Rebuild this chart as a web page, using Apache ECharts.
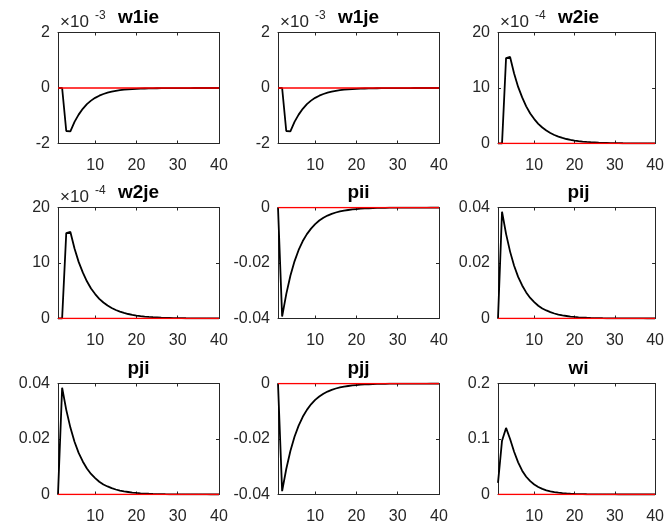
<!DOCTYPE html>
<html><head><meta charset="utf-8">
<script src="https://cdn.jsdelivr.net/npm/echarts@6/dist/echarts.min.js"></script>
<style>html,body{margin:0;padding:0;background:#fff}#c{width:667px;height:532px}</style>
</head><body><div id="c"></div>
<script>
const periods = [1,2,3,4,5,6,7,8,9,10,11,12,13,14,15,16,17,18,19,20,21,22,23,24,25,26,27,28,29,30,31,32,33,34,35,36,37,38,39,40];
const xTicks = [10,20,30,40];
const titles = ['w1ie','w1je','w2ie','w2je','pii','pij','pji','pjj','wi'];

const w1ie = [0,0,-1.55e-3,-1.56e-3,-1.22e-3,-0.96e-3,-0.75e-3,-0.58e-3,-0.455e-3,-0.355e-3,-0.277e-3,-0.216e-3,-0.168e-3,-0.131e-3,-0.102e-3,-0.080e-3,-0.062e-3,-0.049e-3,-0.038e-3,-0.030e-3,-0.023e-3,-0.018e-3,-0.014e-3,-0.011e-3,-0.0085e-3,-0.0066e-3,-0.0052e-3,-0.0040e-3,-0.0031e-3,-0.0025e-3,-0.0019e-3,-0.0015e-3,-0.0012e-3,-0.0009e-3,-0.0007e-3,-0.00055e-3,-0.00043e-3,-0.00033e-3,-0.00026e-3,-0.0002e-3];
const w1je = [0,0,-1.55e-3,-1.56e-3,-1.22e-3,-0.96e-3,-0.75e-3,-0.58e-3,-0.455e-3,-0.355e-3,-0.277e-3,-0.216e-3,-0.168e-3,-0.131e-3,-0.102e-3,-0.080e-3,-0.062e-3,-0.049e-3,-0.038e-3,-0.030e-3,-0.023e-3,-0.018e-3,-0.014e-3,-0.011e-3,-0.0085e-3,-0.0066e-3,-0.0052e-3,-0.0040e-3,-0.0031e-3,-0.0025e-3,-0.0019e-3,-0.0015e-3,-0.0012e-3,-0.0009e-3,-0.0007e-3,-0.00055e-3,-0.00043e-3,-0.00033e-3,-0.00026e-3,-0.0002e-3];
const w2ie = [0,0,15.4e-4,15.6e-4,12.6e-4,10.2e-4,8.3e-4,6.7e-4,5.4e-4,4.4e-4,3.55e-4,2.88e-4,2.33e-4,1.89e-4,1.53e-4,1.24e-4,1.0e-4,0.81e-4,0.66e-4,0.53e-4,0.43e-4,0.35e-4,0.28e-4,0.23e-4,0.19e-4,0.15e-4,0.12e-4,0.10e-4,0.08e-4,0.065e-4,0.053e-4,0.043e-4,0.035e-4,0.028e-4,0.023e-4,0.018e-4,0.015e-4,0.012e-4,0.010e-4,0.008e-4];
const w2je = [0,0,15.4e-4,15.6e-4,12.6e-4,10.2e-4,8.3e-4,6.7e-4,5.4e-4,4.4e-4,3.55e-4,2.88e-4,2.33e-4,1.89e-4,1.53e-4,1.24e-4,1.0e-4,0.81e-4,0.66e-4,0.53e-4,0.43e-4,0.35e-4,0.28e-4,0.23e-4,0.19e-4,0.15e-4,0.12e-4,0.10e-4,0.08e-4,0.065e-4,0.053e-4,0.043e-4,0.035e-4,0.028e-4,0.023e-4,0.018e-4,0.015e-4,0.012e-4,0.010e-4,0.008e-4];
const pii = [0,-0.0393,-0.0312,-0.0246,-0.0194,-0.0153,-0.0121,-0.0096,-0.0076,-0.0060,-0.0047,-0.0037,-0.0029,-0.0023,-0.0018,-0.0014,-0.0011,-0.0009,-0.0007,-0.00056,-0.00044,-0.00035,-0.00027,-0.00022,-0.00017,-0.00013,-0.0001,-0.00008,-0.00006,-0.00005,-0.00004,-0.00003,-0.000025,-0.00002,-0.000015,-0.000012,-0.00001,-0.000008,-0.000006,-0.000005];
const pij = [0,0.0385,0.0305,0.0241,0.0190,0.0150,0.0119,0.0094,0.0074,0.0059,0.0046,0.0036,0.0029,0.0023,0.0018,0.0014,0.0011,0.0009,0.0007,0.00055,0.00043,0.00034,0.00027,0.00021,0.00017,0.00013,0.0001,0.00008,0.00006,0.00005,0.00004,0.00003,0.000025,0.00002,0.000015,0.000012,0.00001,0.000008,0.000006,0.000005];
const pji = [0,0.0385,0.0305,0.0241,0.0190,0.0150,0.0119,0.0094,0.0074,0.0059,0.0046,0.0036,0.0029,0.0023,0.0018,0.0014,0.0011,0.0009,0.0007,0.00055,0.00043,0.00034,0.00027,0.00021,0.00017,0.00013,0.0001,0.00008,0.00006,0.00005,0.00004,0.00003,0.000025,0.00002,0.000015,0.000012,0.00001,0.000008,0.000006,0.000005];
const pjj = [0,-0.0388,-0.0308,-0.0243,-0.0192,-0.0152,-0.0120,-0.0095,-0.0075,-0.0059,-0.0047,-0.0037,-0.0029,-0.0023,-0.0018,-0.0014,-0.0011,-0.0009,-0.0007,-0.00056,-0.00044,-0.00035,-0.00027,-0.00022,-0.00017,-0.00013,-0.0001,-0.00008,-0.00006,-0.00005,-0.00004,-0.00003,-0.000025,-0.00002,-0.000015,-0.000012,-0.00001,-0.000008,-0.000006,-0.000005];
const wi = [0.021,0.097,0.120,0.100,0.077,0.058,0.043,0.032,0.024,0.018,0.0135,0.0101,0.0076,0.0057,0.0043,0.0032,0.0024,0.0018,0.00135,0.0010,0.00076,0.00057,0.00043,0.00032,0.00024,0.00018,0.000135,0.0001,0.000075,0.000056,0.000042,0.000032,0.000024,0.000018,0.000013,0.00001,0.0000075,0.0000056,0.0000042,0.0000032];
const zeroLine = [0,0,0,0,0,0,0,0,0,0,0,0,0,0,0,0,0,0,0,0,0,0,0,0,0,0,0,0,0,0,0,0,0,0,0,0,0,0,0,0];

const seriesData = [w1ie,w1je,w2ie,w2je,pii,pij,pji,pjj,wi];
const yMin = [-0.002,-0.002,0,0,-0.04,0,0,-0.04,0];
const yMax = [0.002,0.002,0.002,0.002,0,0.04,0.04,0,0.2];
const yStep = [0.002,0.002,0.001,0.001,0.02,0.02,0.02,0.02,0.1];
const yExp = [-3,-3,-4,-4,null,null,null,null,null];

const lefts = [58,278,498], tops = [32.5,207.5,383.5];
const W = 161, H = 111;
const axisColor = '#262626';
const font = '"Liberation Sans", Helvetica, Arial, sans-serif';

const option = {animation:false, grid:[], xAxis:[], yAxis:[], series:[], graphic:[]};
for (let i=0;i<9;i++){
  const L = lefts[i%3], T = tops[Math.floor(i/3)];
  option.grid.push({left:L, top:T, width:W, height:H, show:false});
  const tickBase = {show:true, inside:true, length:3, lineStyle:{color:axisColor, width:1}};
  const lineBase = {show:true, onZero:false, lineStyle:{color:axisColor, width:1}};
  option.xAxis.push({type:'value', gridIndex:i, min:1, max:40, position:'bottom',
    axisLine:lineBase, axisTick:Object.assign({customValues:xTicks}, tickBase),
    axisLabel:{customValues:xTicks, color:axisColor, fontSize:16, fontFamily:font, margin:14},
    splitLine:{show:false}});
  option.xAxis.push({type:'value', gridIndex:i, min:1, max:40, position:'top',
    axisLine:lineBase, axisTick:Object.assign({customValues:xTicks}, tickBase),
    axisLabel:{show:false}, splitLine:{show:false}});
  const e = yExp[i];
  option.yAxis.push({type:'value', gridIndex:i, min:yMin[i], max:yMax[i], interval:yStep[i], position:'left',
    axisLine:lineBase, axisTick:tickBase,
    axisLabel:{color:axisColor, fontSize:16, fontFamily:font, margin:8,
      formatter: e===null ? undefined : (v => String(Math.round(v/Math.pow(10,e))))},
    splitLine:{show:false}});
  option.yAxis.push({type:'value', gridIndex:i, min:yMin[i], max:yMax[i], interval:yStep[i], position:'right',
    axisLine:lineBase, axisTick:tickBase, axisLabel:{show:false}, splitLine:{show:false}});
  option.series.push({type:'line', xAxisIndex:2*i, yAxisIndex:2*i, symbol:'none',
    data: periods.map((p,k)=>[p, seriesData[i][k]]), lineStyle:{color:'#000', width:1.8}, z:3});
  option.series.push({type:'line', xAxisIndex:2*i, yAxisIndex:2*i, symbol:'none',
    data: periods.map((p,k)=>[p, zeroLine[k]]), lineStyle:{color:'#ff0000', width:1.6}, z:4});
  option.graphic.push({type:'text', x:L+W/2, y:T-15, style:{text:titles[i], font:'bold 19px '+font, fill:'#000', align:'center', verticalAlign:'middle'}});
  if (e!==null){
    option.graphic.push({type:'text', x:L+2, y:T-10, style:{text:'×10', font:'17px '+font, fill:axisColor, align:'left', verticalAlign:'middle'}});
    option.graphic.push({type:'text', x:L+37, y:T-17, style:{text:String(e), font:'12px '+font, fill:axisColor, align:'left', verticalAlign:'middle'}});
  }
}
const chart = echarts.init(document.getElementById('c'), null, {renderer:'canvas'});
chart.setOption(option);
</script></body></html>
